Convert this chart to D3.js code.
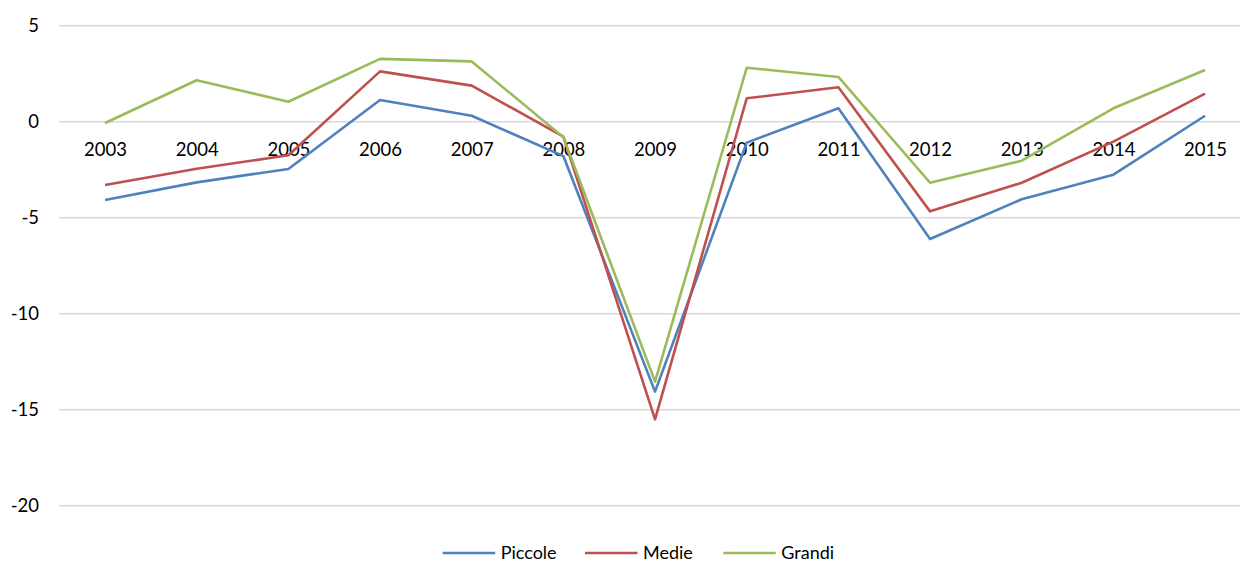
<!DOCTYPE html>
<html><head><meta charset="utf-8">
<script src="https://cdn.jsdelivr.net/npm/d3@7"></script>
<style>body{margin:0;background:#fff}svg{display:block}text{font-family:Lato,"Open Sans",sans-serif;fill:#000}</style>
</head><body>
<svg id="c" width="1240" height="563"></svg>
<script>
const years = ["2003","2004","2005","2006","2007","2008","2009","2010","2011","2012","2013","2014","2015"];
const piccole = [-4.08,-3.16,-2.46,1.13,0.31,-1.79,-14.06,-1.09,0.70,-6.11,-4.04,-2.76,0.31];
const medie   = [-3.30,-2.45,-1.75,2.62,1.88,-0.78,-15.50,1.22,1.79,-4.67,-3.18,-1.04,1.46];
const grandi  = [-0.07,2.16,1.04,3.27,3.14,-0.81,-13.54,2.81,2.33,-3.18,-2.03,0.70,2.69];
const yTicks = [5,0,-5,-10,-15,-20];
const seriesNames = ["Piccole","Medie","Grandi"];
const seriesColors = ["#4F81BD","#C0504D","#9BBB59"];
const seriesData = [piccole, medie, grandi];

const svg = d3.select("#c");
const x = d3.scalePoint().domain(years).range([59.2,1250.9]).padding(0.5);
const y = d3.scaleLinear().domain([-20,5]).range([505.7,25.7]);

// gridlines
svg.append("g").selectAll("line").data(yTicks).join("line")
  .attr("x1",59.2).attr("x2",1240).attr("y1",d=>y(d)).attr("y2",d=>y(d))
  .attr("stroke","#d9d9d9").attr("stroke-width",1.5);

// y labels
const yAxis = d3.axisLeft(y).tickValues(yTicks).tickSize(0).tickPadding(0).tickFormat(d=>String(d));
const gy = svg.append("g").attr("transform","translate(39,0)").call(yAxis);
gy.select(".domain").remove();
gy.selectAll("text").attr("font-size",18.5).attr("font-family","Lato,'Open Sans',sans-serif").attr("fill","#000");

// x labels (at y=0 line, below)
const xAxis = d3.axisBottom(x).tickSize(0).tickPadding(0);
const gx = svg.append("g").attr("transform",`translate(0,${y(0)+21})`).call(xAxis);
gx.select(".domain").remove();
gx.selectAll("text").attr("font-size",18.5).attr("font-family","Lato,'Open Sans',sans-serif").attr("fill","#000");

// lines
const line = d3.line().x((d,i)=>x(years[i])).y(d=>y(d));
svg.append("g").selectAll("path").data(seriesData).join("path")
  .attr("d",d=>line(d)).attr("fill","none")
  .attr("stroke",(d,i)=>seriesColors[i]).attr("stroke-width",2.6)
  .attr("stroke-linejoin","round");

// legend
const legX = [442.7,585,723.3];
const lg = svg.append("g");
seriesNames.forEach((n,i)=>{
  lg.append("line").attr("x1",legX[i]).attr("x2",legX[i]+52.5).attr("y1",553).attr("y2",553)
    .attr("stroke",seriesColors[i]).attr("stroke-width",2.6);
  lg.append("text").attr("x",legX[i]+58).attr("y",553).attr("dy","0.35em")
    .attr("font-size",18).text(n);
});
</script>
</body></html>
